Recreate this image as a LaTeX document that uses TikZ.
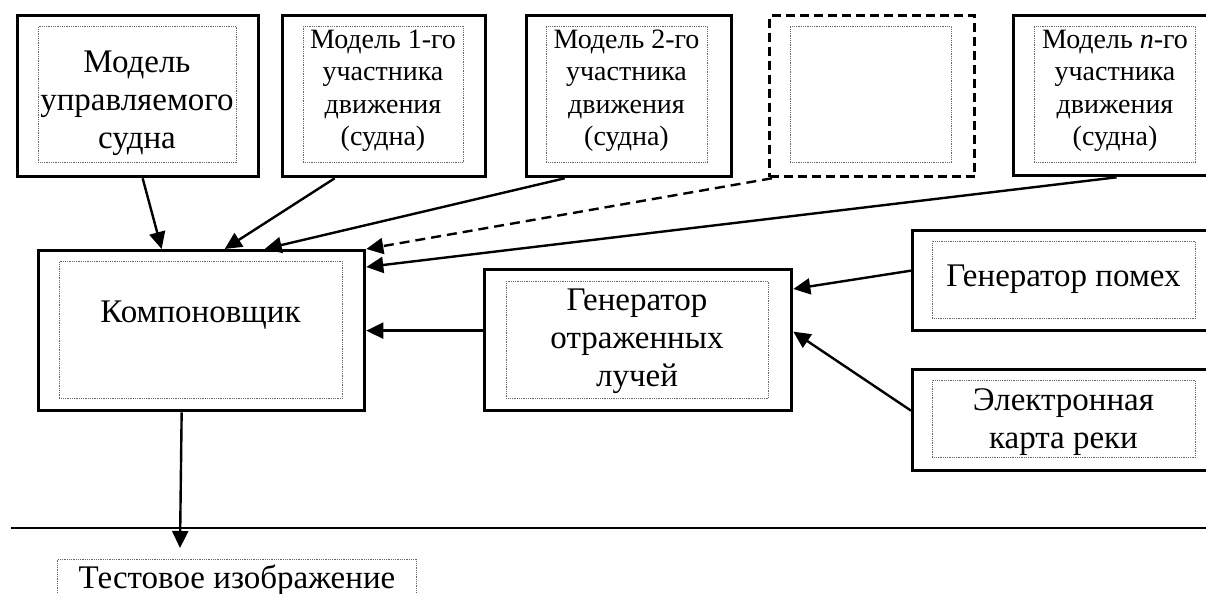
\documentclass[tikz,border=0pt]{standalone}
\usepackage{fontspec}
\setmainfont{Liberation Serif}
\newfontfamily\diagserif{Liberation Serif}
\usetikzlibrary{arrows.meta}
\tikzset{
 outerbox/.style={draw, line width=3.3bp, inner sep=0pt, anchor=north west},
 dashbox/.style={outerbox, dash pattern=on 9bp off 5bp},
 innerbox/.style={draw=black!60, line width=0.8bp, dash pattern=on 0.9bp off 0.9bp, inner sep=0pt, anchor=north west},
 bigtext/.style={font=\diagserif\fontsize{33bp}{38bp}\selectfont, align=center, inner sep=0pt},
 smalltext/.style={font=\diagserif\fontsize{28bp}{32.5bp}\selectfont, align=center, inner sep=0pt},
 conn/.style={line width=2.4bp, -{Triangle[length=17bp,width=16bp]}},
 dconn/.style={conn, dash pattern=on 10bp off 6bp},
 rule/.style={line width=1.6bp},
}
\begin{document}
\begin{tikzpicture}[x=1bp,y=-1bp]
\clip (0,0) rectangle (1206,594);
\fill[white] (0,0) rectangle (1206,594);
% top row
\node[outerbox, minimum width=241bp, minimum height=161bp] (B0) at (16,14) {};
\node[innerbox, minimum width=198bp, minimum height=136bp] (B0i) at (38,26) {};
\node[bigtext, anchor=north] (B0t) at (137,45.4) {\strut Модель\\\strut управляемого\\\strut судна};

\node[outerbox, minimum width=203bp, minimum height=161bp] (B1) at (281,14) {};
\node[innerbox, minimum width=160bp, minimum height=136bp] (B1i) at (303,26) {};
\node[smalltext, anchor=north] (B1t) at (383,25.25) {\strut Модель 1-го\\\strut участника\\\strut движения\\\strut (судна)};

\node[outerbox, minimum width=205bp, minimum height=161bp] (B2) at (525,14) {};
\node[innerbox, minimum width=161bp, minimum height=136bp] (B2i) at (546,26) {};
\node[smalltext, anchor=north] (B2t) at (626.5,25.25) {\strut Модель 2-го\\\strut участника\\\strut движения\\\strut (судна)};

\node[dashbox, minimum width=205bp, minimum height=161bp] (B3) at (768,14) {};
\node[innerbox, minimum width=161bp, minimum height=136bp] (B3i) at (790,26) {};

\node[outerbox, minimum width=206bp, minimum height=160bp] (B4) at (1012,14) {};
\node[innerbox, minimum width=161bp, minimum height=136bp] (B4i) at (1034,26) {};
\node[smalltext, anchor=north] (B4t) at (1115,25.25) {\strut Модель \textit{n}-го\\\strut участника\\\strut движения\\\strut (судна)};

% composer
\node[outerbox, minimum width=326bp, minimum height=160bp] (K) at (37,249) {};
\node[innerbox, minimum width=283bp, minimum height=137bp] (Ki) at (59,261) {};
\node[bigtext, anchor=base] (Kt) at (200.5,323) {Компоновщик};

% reflected rays generator
\node[outerbox, minimum width=307bp, minimum height=141bp] (G) at (483,268) {};
\node[innerbox, minimum width=262bp, minimum height=117bp] (Gi) at (506,281) {};
\node[bigtext, anchor=north] (Gt) at (637,283.4) {\strut Генератор\\\strut отраженных\\\strut лучей};

% noise generator
\node[outerbox, minimum width=307bp, minimum height=100bp] (GP) at (911,229) {};
\node[innerbox, minimum width=263bp, minimum height=77bp] (GPi) at (932,241) {};
\node[bigtext, anchor=base] (GPt) at (1063.5,287) {Генератор помех};

% river map
\node[outerbox, minimum width=307bp, minimum height=101bp] (EK) at (911,368) {};
\node[innerbox, minimum width=263bp, minimum height=77bp] (EKi) at (932,380) {};
\node[bigtext, anchor=north] (EKt) at (1063.5,383.4) {\strut Электронная\\\strut карта реки};

% test image
\node[innerbox, minimum width=359bp, minimum height=45bp] (T) at (57,559) {};
\node[bigtext, anchor=base] (Tt) at (237,588) {Тестовое изображение};

% connectors
\draw[conn] ([xshift=4.5bp]B0.south) -- ([xshift=-40bp]K.north);
\draw[conn] ([xshift=-49.5bp]B1.south) -- ([xshift=23bp]K.north);
\draw[conn] ([xshift=-64.5bp]B2.south) -- ([xshift=63bp]K.north);
\draw[dconn] ([xshift=4bp]B3.south west) -- (K.north east);
\draw[conn] (B4.south) -- ([yshift=-18bp]K.north east);
\draw[conn] (G.west |- K.east) -- (K.east);
\draw[conn] ([yshift=10bp]GP.west) -- ([yshift=-21bp]G.north east);
\draw[conn] ([yshift=9.5bp]EK.west) -- ([yshift=8.5bp]G.east);

% separator and output
\coordinate (hl1) at (11,528);
\coordinate (hl2) at (1206,528);
\draw[rule] (hl1) -- (hl2);
\coordinate (tipT) at (180,548);
\draw[conn] ([xshift=-20bp]K.south) -- (tipT);
\end{tikzpicture}
\end{document}
